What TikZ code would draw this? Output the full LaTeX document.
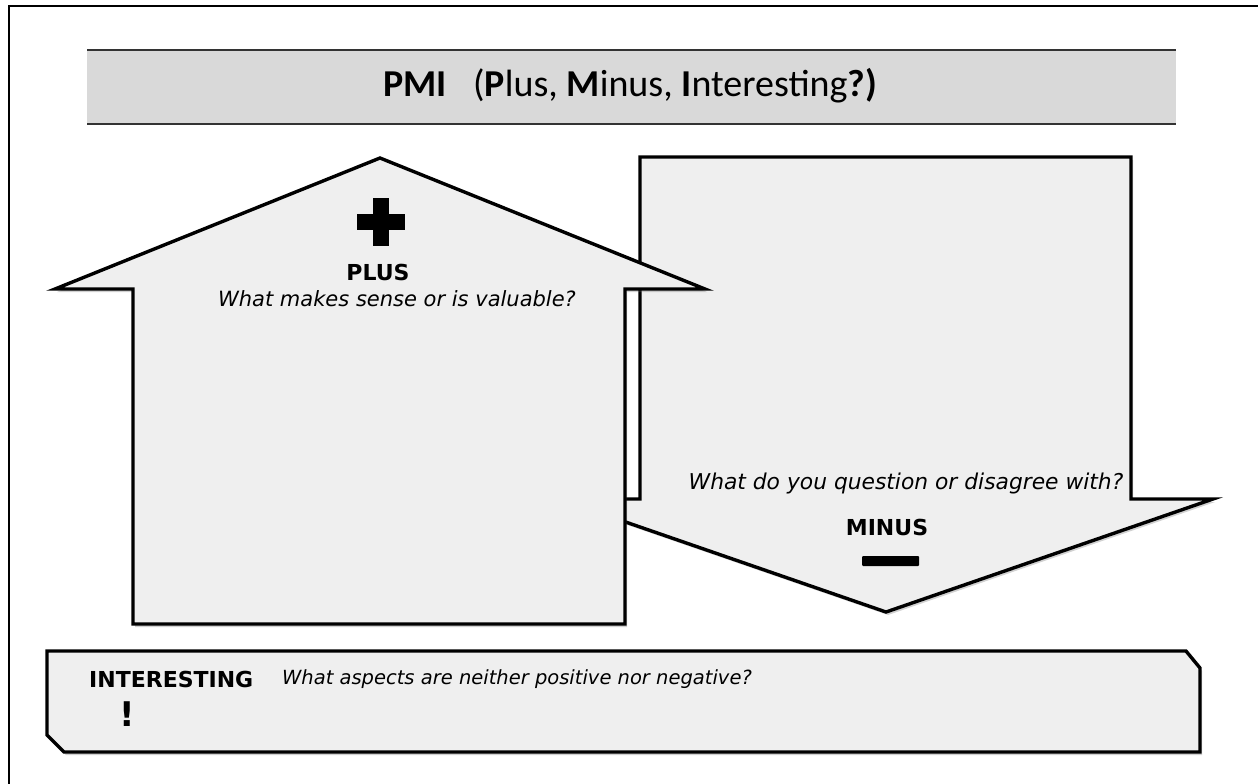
\documentclass[tikz,border=0pt]{standalone}
\usepackage{fontspec}
\setmainfont{DejaVu Sans}
\newfontfamily\titlefont{Carlito}
\usetikzlibrary{shadows}
\definecolor{boxfill}{HTML}{EFEFEF}
\definecolor{bandfill}{HTML}{D9D9D9}
\definecolor{bandline}{HTML}{333333}
\tikzset{
  arrowshape/.style={draw=black, line width=3.4pt, fill=boxfill, line join=miter,
    drop shadow={shadow xshift=2pt, shadow yshift=-3pt, opacity=0.3, fill=black!60}},
  headtxt/.style={font=\bfseries\fontsize{22}{26}\selectfont, inner sep=0pt},
  asktxt/.style={font=\itshape\fontsize{21}{25}\selectfont, inner sep=0pt},
}
\begin{document}
\begin{tikzpicture}[x=1pt, y=-1pt]
\useasboundingbox (0,0) rectangle (1258,784);
% outer frame (top and left edges)
\draw[line width=2.6pt] (9,784) -- (9,6) -- (1258,6);
% title band
\fill[bandfill] (87,50) rectangle (1176,124);
\draw[bandline, line width=1.6pt] (87,50) -- (1176,50);
\draw[bandline, line width=1.6pt] (87,124) -- (1176,124);
\node[font=\titlefont\fontsize{38}{42}\selectfont, inner sep=0pt] (title) at (630,86)
  {\textbf{PMI}\hspace{0.7em}(\textbf{P}lus, \textbf{M}inus, \textbf{I}nteresting\textbf{?)}};
% minus arrow (down)
\draw[arrowshape] (640,157) -- (1131,157) -- (1131,499) -- (1213,499) -- (886,612)
  -- (559,499) -- (640,499) -- cycle;
% plus arrow (up)
\draw[arrowshape] (380,158) -- (705,289) -- (625,289) -- (625,624) -- (133,624)
  -- (133,289) -- (55,289) -- cycle;
% plus sign
\fill[black] (373,198) rectangle (389,246);
\fill[black] (357,214) rectangle (405,230);
\node[headtxt] (plus) at (378,272) {PLUS};
\node[asktxt] (plusq) at (397,299) {What makes sense or is valuable?};
% minus texts
\node[asktxt, font=\itshape\fontsize{21.8}{26}\selectfont] (minusq) at (906,483) {What do you question or disagree with?};
\node[headtxt] (minus) at (887,527) {MINUS};
\fill[black, rounded corners=1pt] (862,556) rectangle (919,566);
% interesting box
\draw[arrowshape] (47,651) -- (1186,651) -- (1200,668) -- (1200,752) -- (64,752)
  -- (47,735) -- cycle;
\node[headtxt, anchor=west] (inter) at (89,679) {INTERESTING};
\node[asktxt, anchor=west, font=\itshape\fontsize{19.5}{23}\selectfont] (interq) at (282,679)
  {What aspects are neither positive nor negative?};
\node[font=\bfseries\fontsize{34}{38}\selectfont, inner sep=0pt] (bang) at (127,714) {!};
\end{tikzpicture}
\end{document}
